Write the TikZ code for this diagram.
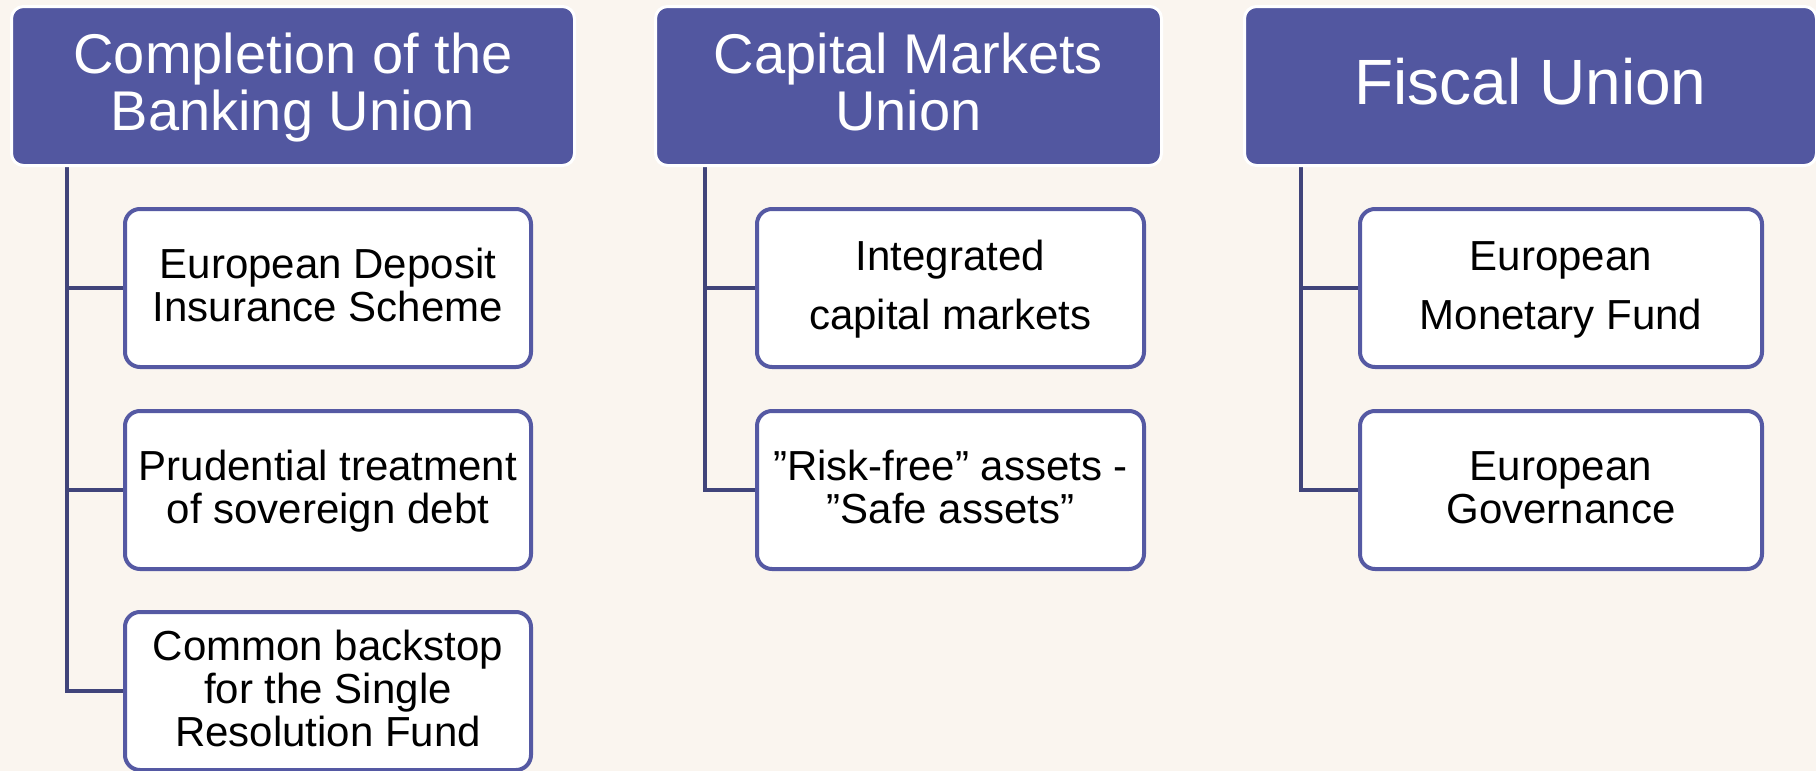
\documentclass[tikz,border=0pt]{standalone}
\usepackage{fontspec}
\setmainfont{Liberation Sans}
\usetikzlibrary{backgrounds}
\definecolor{bgc}{RGB}{250,245,239}
\definecolor{hdr}{RGB}{82,87,160}
\definecolor{bord}{RGB}{85,89,163}
\definecolor{connc}{RGB}{64,68,122}
\newcommand\zs{\rule[-0.2em]{0pt}{0.98em}}
\begin{document}
\begin{tikzpicture}[x=0.5pt,y=-0.5pt,
  hdrbox/.style={rounded corners=6pt, fill=hdr, draw=white, line width=1.5pt,
    text=white, align=center, inner sep=0pt, minimum height=79.5pt,
    font=\fontsize{28}{28.5}\selectfont},
  itembox/.style={rounded corners=7.5pt, fill=white, draw=bord, line width=2pt,
    text=black, align=center, inner sep=0pt, minimum height=79pt,
    font=\fontsize{21}{21.5}\selectfont},
  widegap/.style={font=\fontsize{21}{29.5}\selectfont},
  colA/.style={minimum width=203pt},
  colB/.style={minimum width=193.5pt},
  colC/.style={minimum width=201pt},
  conn/.style={draw=connc, line width=2pt}]
\useasboundingbox (0,0) rectangle (1816,771);

% headers
\node[hdrbox, minimum width=281.5pt] (h1) at (293,86) {\zs Completion of the\\\zs Banking Union};
\node[hdrbox, minimum width=253pt] (h2) at (908.5,86) {\zs Capital Markets\\\zs Union};
\node[hdrbox, minimum width=286pt, font=\fontsize{32}{33}\selectfont] (h3) at (1530.5,86) {\zs Fiscal Union};

% column 1
\node[itembox, colA] (b11) at (328,288) {\zs European Deposit\\\zs Insurance Scheme};
\node[itembox, colA] (b12) at (328,490) {\zs Prudential treatment\\\zs of sovereign debt};
\node[itembox, colA] (b13) at (328,691) {\zs Common backstop\\\zs for the Single\\\zs Resolution Fund};

% column 2
\node[itembox, colB, widegap] (b21) at (950.5,288) {\zs Integrated\\\zs capital markets};
\node[itembox, colB] (b22) at (950.5,490) {\zs ”Risk-free” assets -\\\zs ”Safe assets”};

% column 3
\node[itembox, colC, widegap] (b31) at (1561,288) {\zs European\\\zs Monetary Fund};
\node[itembox, colC] (b32) at (1561,490) {\zs European\\\zs Governance};

\coordinate (s1) at (67,166);
\coordinate (s2) at (705,166);
\coordinate (s3) at (1301,166);

\begin{pgfonlayer}{background}
\fill[bgc] (0,0) rectangle (1816,771);
\draw[conn] (s1) |- (b13.west);
\draw[conn] (s1 |- b11.west) -- (b11.west);
\draw[conn] (s1 |- b12.west) -- (b12.west);
\draw[conn] (s2) |- (b22.west);
\draw[conn] (s2 |- b21.west) -- (b21.west);
\draw[conn] (s3) |- (b32.west);
\draw[conn] (s3 |- b31.west) -- (b31.west);
\end{pgfonlayer}
\end{tikzpicture}
\end{document}
